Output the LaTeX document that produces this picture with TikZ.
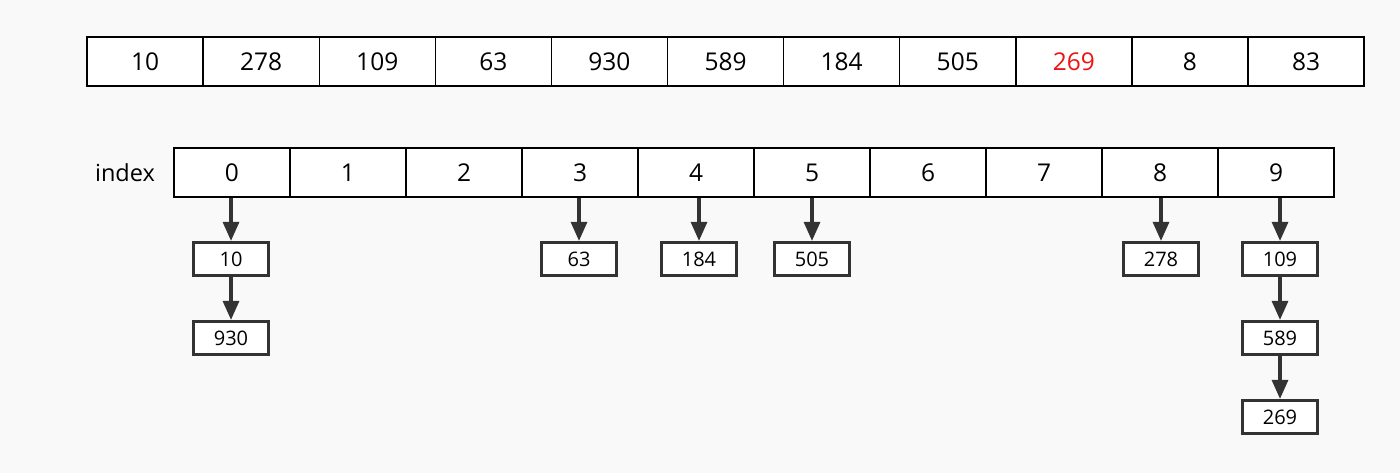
\documentclass[tikz,border=0pt]{standalone}
\usepackage{fontspec}
\setmainfont{Open Sans}
\usepackage{tikz}
\usepackage{xcolor}
\usetikzlibrary{
    arrows.meta,
    positioning
}
\definecolor{bg}{RGB}{249,249,249}
\definecolor{ink}{RGB}{51,51,51}
\definecolor{hit}{RGB}{235,20,20}
\newcommand{\hit}[1]{\textcolor{hit}{#1}}

\begin{document}
\begin{tikzpicture}[x=1pt, y=1pt,
    cell/.style={draw=black, fill=white, line width=1.4pt, minimum width=116.1pt, minimum height=49pt, inner sep=0pt, font=\fontsize{24.5}{26}\selectfont},
    bucket/.style={draw=ink, fill=white, line width=3.2pt, minimum width=75pt, minimum height=33pt, inner sep=0pt, font=\fontsize{20}{22}\selectfont},
    link/.style={ink, line width=3.2pt, -{Triangle[length=19pt, width=16pt]}}]
    \fill[bg] (0, 0) rectangle (1400, -473);
    \useasboundingbox (0, 0) rectangle (1400, -473);
    % input array
    \begin{scope}[shift={(145.05, -61.5)}]
        \node[cell] (a0) at (0, 0) {10};
        \node[cell] (a1) at (116.1, 0) {278};
        \node[cell] (a2) at (232.2, 0) {109};
        \node[cell] (a3) at (348.3, 0) {63};
        \node[cell] (a4) at (464.4, 0) {930};
        \node[cell] (a5) at (580.5, 0) {589};
        \node[cell] (a6) at (696.6, 0) {184};
        \node[cell] (a7) at (812.7, 0) {505};
        \node[cell] (a8) at (928.8, 0) {\hit{269}};
        \node[cell] (a9) at (1044.9, 0) {8};
        \node[cell] (a10) at (1161, 0) {83};
    \end{scope}
    % buckets
    \node[font=\fontsize{23.5}{25}\selectfont] (idx) at (125, -172.5) {index};
    \begin{scope}[shift={(232, -172.5)}]
        \node[cell] (i0) at (0, 0) {0};
        \node[cell] (i1) at (116, 0) {1};
        \node[cell] (i2) at (232, 0) {2};
        \node[cell] (i3) at (348, 0) {3};
        \node[cell] (i4) at (464, 0) {4};
        \node[cell] (i5) at (580, 0) {5};
        \node[cell] (i6) at (696, 0) {6};
        \node[cell] (i7) at (812, 0) {7};
        \node[cell] (i8) at (928, 0) {8};
        \node[cell] (i9) at (1044, 0) {9};
    \end{scope}
    \node[bucket] (b0a) at (231, -259) {10};
    \node[bucket] (b0b) at (231, -338) {930};
    \node[bucket] (b3a) at (579, -259) {63};
    \node[bucket] (b4a) at (699, -259) {184};
    \node[bucket] (b5a) at (812, -259) {505};
    \node[bucket] (b8a) at (1161, -259) {278};
    \node[bucket] (b9a) at (1280, -259) {109};
    \node[bucket] (b9b) at (1280, -338) {589};
    \node[bucket] (b9c) at (1280, -417) {269};
    \draw[link] (i0.south -| b0a) -- (b0a.north);
    \draw[link] (b0a) -- (b0b);
    \draw[link] (i3.south -| b3a) -- (b3a.north);
    \draw[link] (i4.south -| b4a) -- (b4a.north);
    \draw[link] (i5.south -| b5a) -- (b5a.north);
    \draw[link] (i8.south -| b8a) -- (b8a.north);
    \draw[link] (i9.south -| b9a) -- (b9a.north);
    \draw[link] (b9a) -- (b9b);
    \draw[link] (b9b) -- (b9c);
\end{tikzpicture}
\end{document}
